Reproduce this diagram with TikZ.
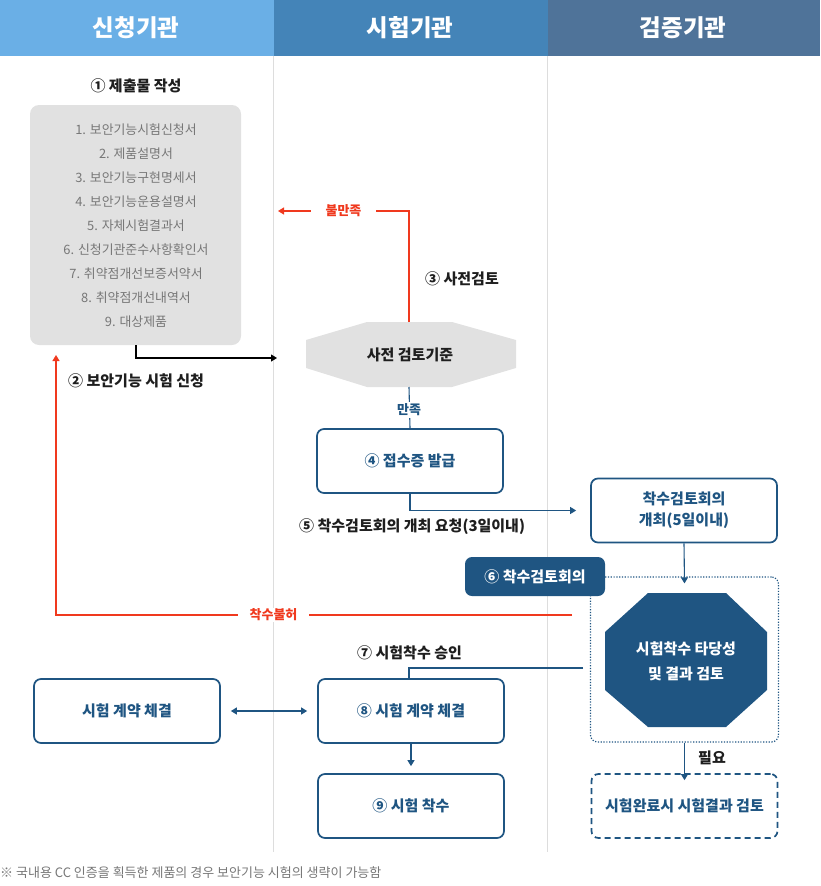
\documentclass[tikz,border=0pt]{standalone}
\usepackage{fontspec}
\setmainfont{Noto Sans CJK KR}
\usetikzlibrary{arrows.meta,positioning}
\definecolor{hdA}{HTML}{6AAFE6}
\definecolor{hdB}{HTML}{4484B8}
\definecolor{hdC}{HTML}{4F7399}
\definecolor{navy}{HTML}{1F5582}
\definecolor{redc}{HTML}{F0391E}
\definecolor{grayfill}{HTML}{E1E1E1}
\definecolor{graytxt}{HTML}{777777}
\definecolor{divider}{HTML}{DDDDDD}
\definecolor{labtxt}{HTML}{1E1E1E}
\begin{document}
\begin{tikzpicture}[x=1pt,y=-1pt,
  hd/.style={font=\fontsize{23.5}{27}\selectfont\bfseries, text=white},
  lbl/.style={font=\fontsize{15}{18}\selectfont\bfseries, text=labtxt, inner sep=0pt},
  bbox/.style={draw=navy, line width=1.7pt, rounded corners=7pt, fill=white, text=navy,
     font=\fontsize{15}{27}\selectfont\bfseries, align=center, minimum width=186pt, minimum height=64pt},
  tip/.style={-{Triangle[length=6pt,width=7pt]}},
  navyline/.style={draw=navy, line width=1.1pt},
  redline/.style={draw=redc, line width=1.2pt},
  blackline/.style={draw=black, line width=1.1pt},
  smalllab/.style={font=\fontsize{13}{15}\selectfont\bfseries, fill=white}
]
\useasboundingbox (0,0) rectangle (820,886);
% header
\fill[hdA] (0,0) rectangle (273.5,56);
\fill[hdB] (273.5,0) rectangle (547.5,56);
\fill[hdC] (547.5,0) rectangle (820,56);
\node[hd] (h1) at (136,27.5) {신청기관};
\node[hd] (h2) at (410,27.5) {시험기관};
\node[hd] (h3) at (683,27.5) {검증기관};
% dividers
\draw[divider, line width=0.8pt] (273.5,56) -- (273.5,852);
\draw[divider, line width=0.8pt] (547.5,56) -- (547.5,852);

% step 1
\node[lbl] (s1) at (136,86) {① 제출물 작성};
\node[fill=grayfill, rounded corners=9pt, minimum width=211pt, minimum height=240pt] (docs) at (135.5,225) {};
\node[text=graytxt, font=\fontsize{12.9}{24}\selectfont, align=center] (doclist) at (136,226)
 {1. 보안기능시험신청서\\2. 제품설명서\\3. 보안기능구현명세서\\4. 보안기능운용설명서\\5. 자체시험결과서\\6. 신청기관준수사항확인서\\7. 취약점개선보증서약서\\8. 취약점개선내역서\\9. 대상제품};

% octagon 1
\fill[grayfill] (367,322) -- (452,322) -- (516,340) -- (516,368) -- (452,387) -- (367,387) -- (306,368) -- (306,340) -- cycle;
\node[font=\fontsize{15}{18}\selectfont\bfseries, text=labtxt] (crit) at (410,354.5) {사전 검토기준};
\coordinate (critT) at (409,322);
\coordinate (critB) at (409,387);
\coordinate (critL) at (277,358);

% step 2
\coordinate (docsB) at (136,345);
\draw[blackline, tip] (docsB) |- (critL);
\node[lbl, anchor=west] (s2) at (68,381) {② 보안기능 시험 신청};

% step 3 : 불만족
\coordinate (unsatTip) at (278,211);
\draw[redline, tip] (critT) -- (409,211) -- (unsatTip);
\node[smalllab, text=redc, inner xsep=15pt, inner ysep=1pt] (unsat) at (343.5,211) {불만족};
\node[lbl, anchor=west] (s3) at (425,279) {③ 사전검토};

% step 4
\node[bbox] (b4) at (410,461) {④ 접수증 발급};
\draw[navyline] (critB) -- (b4.north);
\node[smalllab, text=navy, inner xsep=2pt, inner ysep=2pt] (sat) at (409,410) {만족};

% step 5
\node[bbox] (b5) at (684,510.5) {착수검토회의\\[-6pt]개최(5일이내)};
\draw[navyline, tip] (b4.south) |- ([xshift=-14pt]b5.west);
\node[lbl, anchor=west] (s5) at (299,527) {⑤ 착수검토회의 개최 요청(3일이내)};

% dotted group
\node[draw=navy, line width=1.2pt, dash pattern=on 1.2pt off 1.6pt, rounded corners=7pt, minimum width=188pt, minimum height=165pt] (grp) at (684.5,659.5) {};
\draw[navyline, tip] (b5.south) -- ([yshift=-7pt]grp.north);

% octagon 2
\fill[navy] (648,593) -- (726,593) -- (767,632) -- (767,690) -- (726,727) -- (648,727) -- (605,690) -- (605,632) -- cycle;
\node[font=\fontsize{15}{25}\selectfont\bfseries, text=white, align=center] (rev) at (686,661) {시험착수 타당성\\및 결과 검토};

% step 6 label box
\node[fill=navy, rounded corners=7pt, minimum width=140pt, minimum height=39pt, text=white,
      font=\fontsize{15}{18}\selectfont\bfseries] (s6) at (535,576.5) {⑥ 착수검토회의};

% reject
\coordinate (rejS) at (572,615);
\coordinate (rejTip) at (56,355);
\draw[redline, tip] (rejS) -- (56,615) -- (rejTip);
\node[smalllab, text=redc, inner xsep=12pt, inner ysep=1pt] (rej) at (273.5,615) {착수불허};

% step 7 / 8
\node[bbox] (b8) at (411,711) {⑧ 시험 계약 체결};
\node[bbox] (bl) at (127,711) {시험 계약 체결};
\coordinate (apprS) at (583,668);
\draw[navyline] (apprS) -- (409,668) -- (409,678);
\node[lbl, anchor=west] (s7) at (357,653) {⑦ 시험착수 승인};
\draw[navyline, {Triangle[length=6pt,width=7pt]}-{Triangle[length=6pt,width=7pt]}, shorten <=10pt, shorten >=10pt] (bl.east) -- (b8.west);

% step 9
\node[bbox] (b9) at (411,806) {⑨ 시험 착수};
\draw[navyline, tip, shorten >=7pt] (b8.south) -- (b9.north);

% final review
\node[bbox, dash pattern=on 6pt off 4pt] (fin) at (684.5,806) {시험완료시 시험결과 검토};
\draw[navyline, tip] (grp.south) -- ([yshift=-7pt]fin.north);
\node[lbl, anchor=west] (need) at (698,758) {필요};

% footnote
\node[anchor=west, text=graytxt, font=\fontsize{13}{15}\selectfont, inner sep=0pt] (foot) at (0,873) {※ 국내용 CC 인증을 획득한 제품의 경우 보안기능 시험의 생략이 가능함};
\end{tikzpicture}
\end{document}
